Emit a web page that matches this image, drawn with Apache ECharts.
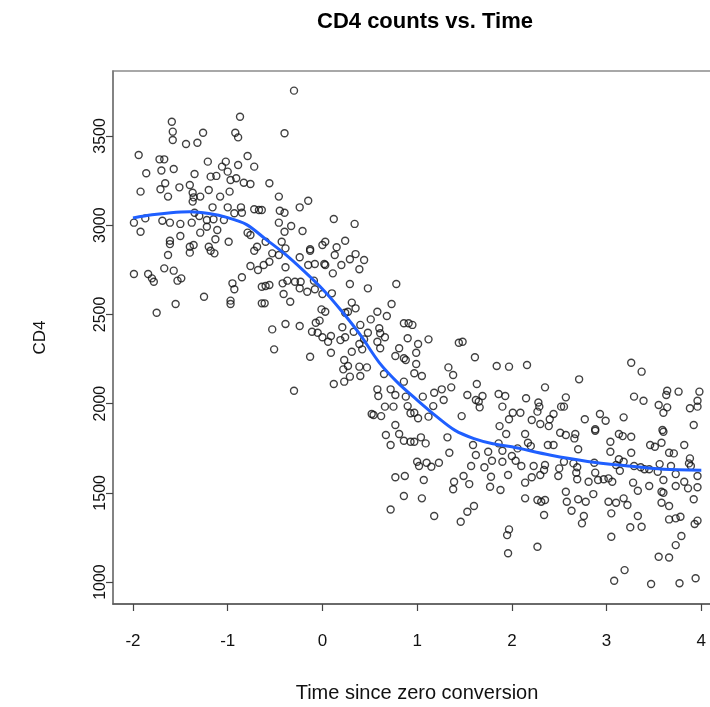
<!DOCTYPE html>
<html lang="en">
<head>
    <meta charset="UTF-8">
    <title>CD4 counts vs. Time</title>
    <script src="https://cdn.jsdelivr.net/npm/echarts@6/dist/echarts.min.js"></script>
    <style>
        html, body { margin: 0; padding: 0; background: #fff; }
        #main { width: 710px; height: 707px; }
    </style>
</head>
<body>
    <div id="main"></div>
    <script>
        // tick labels
        var xTicks = [-2, -1, 0, 1, 2, 3, 4];
        var yTicks = [1000, 1500, 2000, 2500, 3000, 3500];

        // time since zero conversion (x) and CD4 count (y)
        var timeVals = [
            -0.87,-1.59,-1.58,-1.58,-1.26,-1.44,-1.32,-0.92,-0.89,-1.94,-1.72,-1.67,-1.21,-1.02,-0.79,-1.86,-1.70,-1.57,-1.35,-1.18,
            -1.12,-1.06,-1.00,-0.89,-0.72,-0.97,-0.91,-0.83,-0.76,-1.66,-1.71,-1.92,-1.51,-1.40,-1.63,-1.37,-1.36,-1.29,-1.20,-1.08,
            -0.98,-1.37,-1.16,-1.00,-0.86,-0.72,-0.67,-0.93,-0.85,-1.35,-1.30,-1.99,-1.87,-1.69,-1.61,-1.50,-1.38,-1.22,-1.15,-1.04,
            -1.92,-1.50,-1.29,-1.22,-1.11,-0.79,-0.76,-1.61,-1.61,-1.36,-1.20,-1.13,-0.99,-0.69,-1.40,
            -1.63,-1.40,-1.18,-1.14,-0.72,-1.99,-1.84,-1.80,-1.78,-1.67,-1.57,-1.53,-1.49,-1.75,-1.55,-1.25,-0.95,-0.93,-0.97,-0.97,
            -0.85,-0.76,-0.68,-0.64,-0.64,
            -0.30,-0.40,-0.56,-0.46,-0.64,-0.45,-0.40,-0.46,-0.33,-0.40,-0.24,-0.15,-0.21,0.12,0.34,0.24,0.03,0.00,0.15,-0.13,
            -0.43,-0.60,-0.39,
            -0.53,-0.46,-0.62,-0.56,-0.39,-0.24,-0.13,-0.15,-0.08,0.02,0.03,0.13,0.20,0.29,0.35,0.44,0.39,0.11,-0.60,-0.56,
            -0.42,-0.37,-0.29,-0.23,-0.24,-0.16,-0.08,-0.09,-0.41,-0.34,-0.61,0.00,0.10,0.29,0.48,0.78,0.31,0.35,0.27,0.24,
            -0.01,0.03,0.58,0.68,0.73,0.51,0.40,0.86,0.91,-0.53,-0.39,-0.24,-0.07,-0.03,-0.11,-0.05,0.00,0.09,0.06,0.21,
            0.19,0.24,0.33,0.48,0.44,0.60,0.61,0.66,0.58,0.61,0.90,0.39,0.42,-0.51,-0.13,0.09,0.31,0.23,0.27,0.22,
            0.39,0.47,0.29,0.23,0.12,0.40,0.65,0.77,0.81,0.86,0.88,0.86,-0.30,0.58,0.59,0.72,0.77,0.88,0.90,0.66,
            0.75,0.52,0.54,0.62,0.77,0.93,
            0.95,1.12,1.01,0.99,0.99,0.97,1.05,1.44,1.48,1.61,1.33,1.38,1.84,1.97,2.16,1.36,1.26,1.18,1.06,1.28,
            1.63,1.53,1.69,1.62,1.65,1.66,1.86,1.93,1.90,2.15,2.35,2.28,2.29,2.27,1.17,0.97,1.01,1.12,1.47,2.01,
            2.09,1.97,1.87,2.21,2.30,2.40,2.44,2.39,2.52,
            3.26,3.37,2.71,2.57,2.55,3.29,3.39,3.64,3.63,3.76,3.98,3.96,3.55,3.64,3.60,3.88,3.96,2.93,2.99,2.77,
            3.18,3.92,2.88,3.59,
            0.67,0.72,0.81,0.86,0.93,0.77,0.87,0.86,0.72,
            0.97,1.04,1.09,1.32,1.59,1.34,1.62,1.75,1.86,1.94,1.90,2.06,2.14,2.17,2.20,2.38,2.44,2.51,1.00,1.02,
            1.10,1.15,1.23,1.07,1.05,1.18,1.57,1.71,1.79,1.90,2.00,2.04,2.10,2.23,2.35,2.34,2.30,2.50,2.49,1.49,
            1.39,1.38,1.55,1.78,1.77,1.88,1.96,2.14,2.21,2.14,2.27,2.31,2.35,2.34,1.60,1.53,1.46,1.97,1.95,1.96,
            2.27,
            2.57,2.67,2.66,2.70,2.88,3.04,3.13,3.17,3.26,3.04,3.26,3.46,3.51,3.58,3.60,3.66,3.71,3.82,3.88,3.87,
            2.55,2.65,2.69,2.68,2.87,2.88,2.69,2.81,2.91,2.97,3.02,3.06,3.10,3.13,3.18,3.14,3.29,3.36,3.40,3.45,
            3.56,3.68,3.73,3.89,3.96,3.54,3.60,3.28,3.33,3.45,3.58,3.60,3.73,3.82,3.86,3.96,3.92,2.57,2.58,2.70,
            2.78,2.86,2.63,2.76,2.74,3.02,3.10,3.05,3.18,3.22,3.58,3.66,3.33,3.25,3.37,3.05,3.66,3.73,3.78,3.93,
            3.96,3.79,3.73,3.55,3.66,3.19,3.08,3.47,3.77,3.94
        ];
        var cd4Vals = [
            3608,3580,3524,3477,3518,3455,3462,3518,3492,3393,3369,3369,3356,3356,3388,3291,3306,3315,3287,3272,
            3276,3328,3300,3337,3328,3253,3263,3238,3231,3235,3201,3188,3212,3225,3160,3182,3156,3160,3197,3160,
            3188,3132,3100,3100,3100,3089,3085,3067,3070,3070,3051,3014,3038,3025,3014,3007,3014,3029,3033,3029,
            2963,2939,2958,2991,2973,2958,2945,2913,2894,2889,2879,2921,2907,2879,2879,
            2833,2846,2857,2842,2857,2726,2726,2702,2683,2758,2745,2689,2702,2509,2558,2599,2674,2641,2577,2558,
            2708,2771,2749,2655,2562,
            3754,3515,3235,3160,3085,3081,3070,3014,2995,2963,3100,3137,2967,3035,3007,2913,2907,2889,2876,2865,
            2907,2907,2870,
            2842,2833,2777,2795,2764,2820,2857,2777,2782,2782,2777,2833,2777,2809,2838,2805,2753,2730,2659,2665,
            2674,2689,2683,2683,2646,2627,2641,2689,2614,2571,2562,2614,2618,2670,2646,2670,2566,2534,2515,2509,
            2528,2515,2515,2491,2558,2472,2441,2450,2450,2416,2446,2435,2453,2465,2403,2397,2372,2379,2347,2428,
            2356,2372,2403,2397,2360,2422,2394,2372,2347,2310,2366,2334,2304,2304,2263,2285,2291,2244,2211,2192,
            2207,2203,2151,2123,2110,2155,2166,2267,2310,2254,2244,2123,2072,2080,2043,2080,2048,2039,1986,1983,
            1983,1942,1936,1930,1880,1946,
            2441,2360,2334,2285,2222,2170,2155,2341,2347,2260,2203,2160,2211,2207,2216,2091,2080,2061,2039,2020,
            2110,2048,2043,2020,2011,1979,2054,2043,1983,2030,2091,2006,1983,1955,1986,1949,1918,1927,1930,1949,
            1949,1912,1874,1908,1886,1912,1942,1874,1983,
            2229,2179,2136,2035,1983,2039,2016,2072,2048,2067,2067,2016,1992,1979,1949,1974,1983,1942,1904,1912,
            1923,1880,1856,1852,
            1824,1768,1830,1792,1786,1587,1594,1482,1407,
            1786,1811,1777,1811,1768,1725,1712,1730,1777,1830,1736,1749,1830,1781,1762,1768,1768,1837,1674,1650,
            1669,1646,1669,1572,1469,1370,1650,1643,1680,1674,1706,1680,1650,1650,1656,1628,1600,1637,1594,1594,
            1562,1520,1549,1590,1534,1516,1600,1557,1587,1469,1460,1450,1460,1376,1426,1394,1338,1295,1263,1161,
            1198,
            1824,1830,1805,1744,1848,1786,1830,1818,1814,1730,1725,1768,1758,1781,1842,1725,1721,1768,1693,1665,
            1674,1665,1643,1613,1669,1613,1576,1562,1572,1576,1581,1562,1656,1688,1674,1624,1650,1643,1632,1632,
            1661,1650,1605,1650,1594,1618,1572,1557,1512,1538,1506,1500,1538,1562,1525,1531,1464,1506,1450,1464,
            1450,1493,1400,1370,1329,1450,1444,1385,1469,1432,1444,1426,1370,1307,1310,1254,1351,1357,1366,1325,
            1344,1258,1207,1142,1138,1067,1007,989,993,1021
        ];

        // smoothed (loess) curve
        var loessX = [-2, -1.8, -1.6, -1.4, -1.2, -1.0, -0.8, -0.6, -0.4, -0.2, 0, 0.2, 0.4, 0.6, 0.8, 1.0, 1.2, 1.4, 1.6, 1.8, 2.0, 2.4, 2.8, 3.2, 3.6, 4.0];
        var loessY = [3040, 3058, 3070, 3075, 3065, 3042, 3003, 2922, 2840, 2745, 2642, 2520, 2385, 2230, 2115, 2020, 1930, 1850, 1804, 1775, 1758, 1712, 1676, 1652, 1632, 1626];

        var points = timeVals.map(function (t, i) { return [t, cd4Vals[i]]; });
        var curve = loessX.map(function (t, i) { return [t, loessY[i]]; });

        var font = 'Liberation Sans, Arial, Helvetica, sans-serif';
        var myChart = echarts.init(document.getElementById('main'), null, { renderer: 'canvas' });

        var option = {
            animation: false,
            backgroundColor: '#fff',
            title: {
                text: 'CD4 counts vs. Time',
                left: 420,
                top: 6,
                textAlign: 'center',
                textStyle: { fontFamily: font, fontSize: 22, fontWeight: 'bold', color: '#000' }
            },
            grid: {
                left: 113, top: 71, right: -11, bottom: 103,
                show: true, borderColor: '#8c8c8c', borderWidth: 1.5,
                outerBoundsMode: 'none'
            },
            xAxis: {
                type: 'value',
                min: -2.211, max: 4.208,
                name: 'Time since zero conversion',
                nameLocation: 'middle',
                nameGap: 79,
                nameTextStyle: { fontFamily: font, fontSize: 20, color: '#111' },
                splitLine: { show: false },
                axisLine: { show: true, onZero: false, lineStyle: { color: '#555', width: 1.5 } },
                axisTick: { show: true, length: 7, customValues: xTicks, lineStyle: { color: '#444', width: 1.2 } },
                axisLabel: { customValues: xTicks, margin: 29, fontFamily: font, fontSize: 17, color: '#111' }
            },
            yAxis: {
                type: 'value',
                min: 877, max: 3864,
                name: 'CD4',
                nameLocation: 'middle',
                nameGap: 64,
                nameTextStyle: { fontFamily: font, fontSize: 17, color: '#111' },
                splitLine: { show: false },
                axisLine: { show: true, onZero: false, lineStyle: { color: '#777', width: 1.5 } },
                axisTick: { show: true, length: 7, customValues: yTicks, lineStyle: { color: '#444', width: 1.2 } },
                axisLabel: {
                    customValues: yTicks, rotate: 90, margin: 4,
                    fontFamily: font, fontSize: 16, color: '#111',
                    formatter: function (v) { return String(v); }
                }
            },
            series: [
                {
                    name: 'CD4',
                    type: 'scatter',
                    data: points,
                    symbol: 'circle',
                    symbolSize: 7,
                    itemStyle: { color: 'rgba(255,255,255,0)', borderColor: '#111', borderWidth: 1.4 }
                },
                {
                    name: 'loess',
                    type: 'line',
                    data: curve,
                    smooth: 0.3,
                    showSymbol: false,
                    lineStyle: { color: '#1f5fff', width: 3 },
                    z: 3
                }
            ]
        };

        myChart.setOption(option);
    </script>
</body>
</html>
